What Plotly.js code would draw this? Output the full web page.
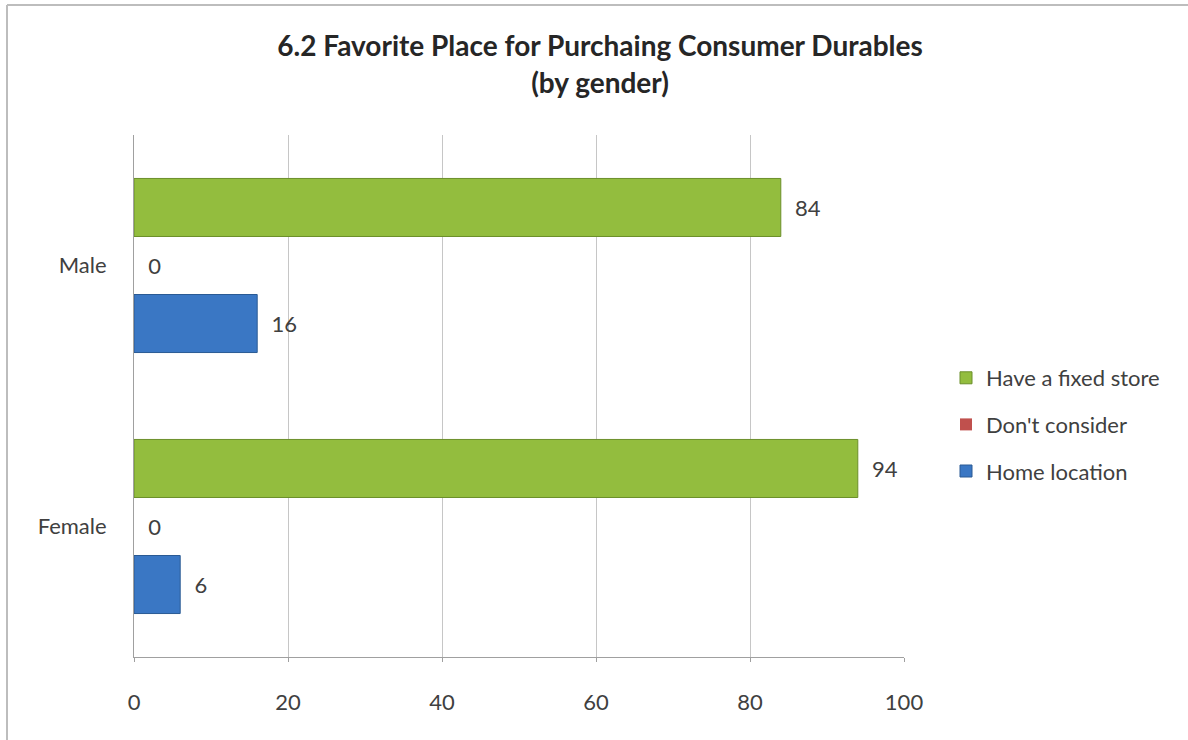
<!DOCTYPE html>
<html>
<head>
<meta charset="utf-8">
<script src="https://cdn.plot.ly/plotly-3.0.1.min.js"></script>
<style>html,body{margin:0;padding:0;background:#fff;}#chart{width:1188px;height:740px;}</style>
</head>
<body>
<div id="chart"></div>
<script>
var categories = ["Female", "Male"];
var seriesNames = ["Home location", "Don't consider", "Have a fixed store"];
var homeLocation = [6, 16];
var dontConsider = [0, 0];
var fixedStore = [94, 84];
var xTicks = [0, 20, 40, 60, 80, 100];

var colors = ["#3a77c4", "#c0504d", "#93bd3e"];
var lines = ["#2a5a94", "#8c3533", "#6b8f2a"];
var lineWidths = [1, 0, 1];
var ranks = [3, 2, 1];
var values = [homeLocation, dontConsider, fixedStore];
var FONT = "Lato, 'Open Sans', sans-serif";

var traces = values.map(function (v, i) {
  return {
    type: "bar",
    orientation: "h",
    name: seriesNames[i],
    y: categories,
    x: v,
    texttemplate: "\u00a0\u00a0%{x}",
    textposition: "outside",
    cliponaxis: false,
    textfont: {family: FONT, size: 22, color: "#404040"},
    marker: {color: colors[i], line: {color: lines[i], width: lineWidths[i]}},
    legendgroup: "g" + i,
    legendrank: ranks[i],
    hoverinfo: "x+name"
  };
});

var PL = 134, PR = 904, PT = 135, PB = 657;
function px(x) { return (x - PL) / (PR - PL); }
function py(y) { return 1 - (y - PT) / (PB - PT); }

var layout = {
  width: 1188,
  height: 740,
  paper_bgcolor: "#ffffff",
  plot_bgcolor: "#ffffff",
  margin: {l: PL, r: 1188 - PR, t: PT, b: 740 - PB},
  barmode: "group",
  bargap: 0.333,
  bargroupgap: 0,
  title: {
    text: "<b>6.2 Favorite Place for Purchaing Consumer Durables<br>(by gender)</b>",
    font: {family: FONT, size: 28, color: "#262626"},
    x: px(600), xanchor: "center", xref: "paper",
    y: 0.924, yanchor: "top", yref: "container"
  },
  xaxis: {
    range: [0, 100],
    tickvals: xTicks,
    ticktext: xTicks.map(String),
    showgrid: true,
    gridcolor: "#c6c6c6",
    gridwidth: 1,
    zeroline: false,
    showline: true,
    linecolor: "#a0a0a0",
    ticks: "outside",
    ticklen: 4,
    tickcolor: "#a0a0a0",
    ticklabelstandoff: 22,
    tickfont: {family: FONT, size: 22, color: "#404040"},
    fixedrange: true
  },
  yaxis: {
    categoryorder: "array",
    categoryarray: categories,
    showline: true,
    linecolor: "#a0a0a0",
    showgrid: false,
    ticks: "",
    ticklabelstandoff: 22,
    tickfont: {family: FONT, size: 22, color: "#404040"},
    fixedrange: true
  },
  legend: {
    x: px(946), xanchor: "left",
    y: py(357), yanchor: "top",
    traceorder: "grouped",
    tracegroupgap: 15,
    font: {family: FONT, size: 22, color: "#404040"},
    itemwidth: 30,
    bgcolor: "rgba(0,0,0,0)"
  },
  showlegend: true,
  shapes: [
    {type: "line", xref: "paper", yref: "paper", x0: px(7), x1: px(7), y0: py(5), y1: py(740), line: {color: "#bdbdbd", width: 2}},
    {type: "line", xref: "paper", yref: "paper", x0: px(7), x1: px(1188), y0: py(5), y1: py(5), line: {color: "#bdbdbd", width: 2}}
  ]
};

Plotly.newPlot("chart", traces, layout, {displayModeBar: false, staticPlot: true});
</script>
</body>
</html>
